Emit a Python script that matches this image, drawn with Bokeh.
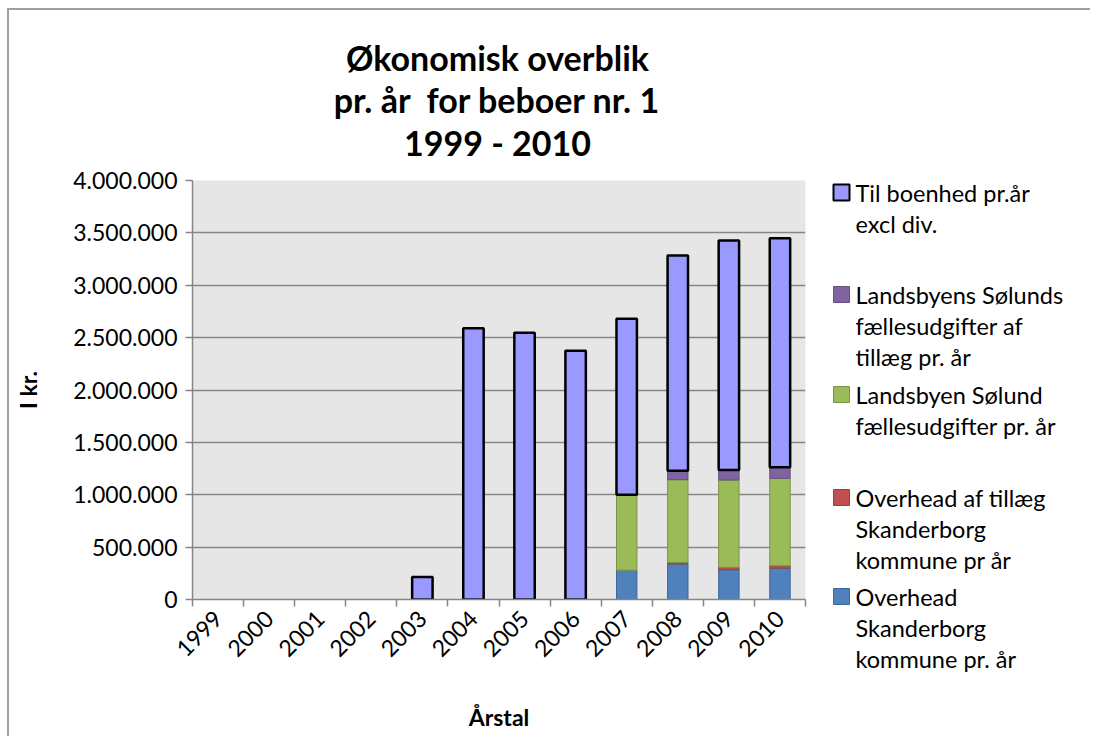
import math
from bokeh.plotting import figure
from bokeh.models import (ColumnDataSource, Range1d, FixedTicker, CDSView, BooleanFilter, Spacer)
from bokeh.layouts import row, column
from bokeh.embed import file_html
from bokeh.resources import INLINE
from bokeh.core.properties import value

# ---------------- data ----------------
years = ["1999", "2000", "2001", "2002", "2003", "2004", "2005", "2006", "2007", "2008", "2009", "2010"]
overhead = [0, 0, 0, 0, 0, 0, 0, 0, 280000, 340000, 285000, 300000]
overhead_tillaeg = [0, 0, 0, 0, 0, 0, 0, 0, 0, 14000, 22000, 22000]
faelles = [0, 0, 0, 0, 0, 0, 0, 0, 720000, 790000, 834000, 835000]
faelles_tillaeg = [0, 0, 0, 0, 0, 0, 0, 0, 0, 86000, 96000, 105000]
til_boenhed = [0, 0, 0, 0, 215000, 2590000, 2546000, 2374000, 1680000, 2053000, 2190000, 2187000]

series_names = ["overhead", "overhead_tillaeg", "faelles", "faelles_tillaeg", "til_boenhed"]
series_labels = [
    "Overhead\nSkanderborg\nkommune pr. år",
    "Overhead af tillæg\nSkanderborg\nkommune pr år",
    "Landsbyen Sølund\nfællesudgifter pr. år",
    "Landsbyens Sølunds\nfællesudgifter af\ntillæg pr. år",
    "Til boenhed pr.år\nexcl div.",
]
fills = ["#4F81BD", "#C0504D", "#9BBB59", "#8064A2", "#9999FF"]
lines = ["#3D6796", "#9A3F3C", "#7A9446", "#65507F", "#000000"]
lwidths = [1, 1, 1, 1, 2.5]

y_ticks = [0, 500000, 1000000, 1500000, 2000000, 2500000, 3000000, 3500000, 4000000]
y_tick_labels = ["0", "500.000", "1.000.000", "1.500.000", "2.000.000", "2.500.000",
                 "3.000.000", "3.500.000", "4.000.000"]

title_lines = ["Økonomisk overblik", "pr. år \u00a0for beboer nr. 1", "1999 - 2010"]

FONT = "Lato"
GRID = "#868686"

def blank_fig(w, h):
    f = figure(width=w, height=h, output_backend="svg", toolbar_location=None,
               x_range=Range1d(0, w), y_range=Range1d(h, 0),
               min_border=0, min_border_left=0, min_border_right=0,
               min_border_top=0, min_border_bottom=0)
    f.axis.visible = False
    f.grid.visible = False
    f.outline_line_color = None
    f.background_fill_color = "white"
    f.border_fill_color = "white"
    f.frame_align = False
    return f

# ---------------- title figure ----------------
W1, W2 = 811, 270
TH = 155
tfig = blank_fig(W1 + W2, TH)
tfig.text(x=[488, 488, 488], y=[47, 89, 132], text=title_lines, text_font=value(FONT),
          text_font_style="bold", text_font_size="34px", text_align="center",
          text_baseline="middle", text_color="black")

# ---------------- main figure ----------------
x_centers = [i + 0.5 for i in range(len(years))]
x_bounds = list(range(len(years) + 1))

data = dict(x=x_centers, year=years, overhead=overhead, overhead_tillaeg=overhead_tillaeg,
            faelles=faelles, faelles_tillaeg=faelles_tillaeg, til_boenhed=til_boenhed)
src = ColumnDataSource(data)

H = 571
p = figure(width=W1, height=H, output_backend="svg", toolbar_location=None,
           x_range=Range1d(0, len(years)), y_range=Range1d(0, 4000000),
           min_border_left=183, min_border_right=15, min_border_top=15, min_border_bottom=137)
p.frame_align = False
p.background_fill_color = "#E6E6E6"
p.border_fill_color = "white"
p.outline_line_color = None

renderers = p.vbar_stack(series_names, x="x", width=0.4, source=src,
                         fill_color=fills, line_color=lines, line_width=lwidths)
for r, name in zip(renderers, series_names):
    r.view = CDSView(filter=BooleanFilter([v > 0 for v in data[name]]))

p.xgrid.visible = False
p.ygrid.grid_line_color = GRID
p.ygrid.grid_line_width = 1.5
p.ygrid.ticker = FixedTicker(ticks=y_ticks)

p.yaxis.ticker = FixedTicker(ticks=y_ticks)
p.yaxis.major_label_overrides = {t: l for t, l in zip(y_ticks, y_tick_labels)}
p.yaxis.minor_tick_line_color = None
p.yaxis.major_tick_in = 0
p.yaxis.major_tick_out = 7
p.yaxis.axis_line_color = GRID
p.yaxis.axis_line_width = 1.5
p.yaxis.major_tick_line_color = GRID
p.yaxis.major_tick_line_width = 1.5
p.yaxis.major_label_text_font = FONT
p.yaxis.major_label_text_font_size = "23px"
p.yaxis.major_label_text_color = "black"
p.yaxis.major_label_standoff = 8
p.yaxis.axis_label = "I kr."
p.yaxis.axis_label_text_font = FONT
p.yaxis.axis_label_text_font_style = "bold"
p.yaxis.axis_label_text_font_size = "23px"
p.yaxis.axis_label_text_color = "black"
p.yaxis.axis_label_standoff = 28

p.xaxis.ticker = FixedTicker(ticks=x_centers, minor_ticks=x_bounds)
p.xaxis.major_label_overrides = {c: y for c, y in zip(x_centers, years)}
p.xaxis.major_tick_line_color = None
p.xaxis.major_tick_out = 0
p.xaxis.major_tick_in = 0
p.xaxis.minor_tick_out = 7
p.xaxis.minor_tick_in = 0
p.xaxis.minor_tick_line_color = GRID
p.xaxis.minor_tick_line_width = 1.5
p.xaxis.axis_line_color = GRID
p.xaxis.axis_line_width = 1.5
p.xaxis.major_label_orientation = math.pi / 4
p.xaxis.major_label_text_font = FONT
p.xaxis.major_label_text_font_size = "23px"
p.xaxis.major_label_text_color = "black"
p.xaxis.major_label_standoff = 8
p.xaxis.axis_label = "Årstal"
p.xaxis.axis_label_text_font = FONT
p.xaxis.axis_label_text_font_style = "bold"
p.xaxis.axis_label_text_font_size = "23px"
p.xaxis.axis_label_text_color = "black"
p.xaxis.axis_label_standoff = 36

# ---------------- legend figure ----------------
leg = blank_fig(W2, H)
entry_order = [4, 3, 2, 1, 0]
entry_y = [27, 129, 229, 332, 431]
line_h = 31
sq_x, sq_size, txt_x = 21, 16, 35
tx, ty, tt = [], [], []
for idx, ey in zip(entry_order, entry_y):
    leg.rect(x=sq_x, y=ey, width=sq_size, height=sq_size, fill_color=fills[idx],
             line_color=lines[idx], line_width=2 if idx == 4 else 1)
    for k, ln in enumerate(series_labels[idx].split("\n")):
        tx.append(txt_x)
        ty.append(ey + k * line_h)
        tt.append(ln)
leg.text(x=tx, y=ty, text=tt, text_font=value(FONT), text_font_size="23.5px",
         text_baseline="middle", text_align="left", text_color="black")

chart = column(tfig, row(p, leg), styles={"border-top": "2px solid #A0A0A0",
                                          "border-left": "2px solid #A0A0A0"})
layout = row(Spacer(width=7, height=10), column(Spacer(width=10, height=8), chart))

open("out.html", "w").write(file_html(layout, INLINE))
